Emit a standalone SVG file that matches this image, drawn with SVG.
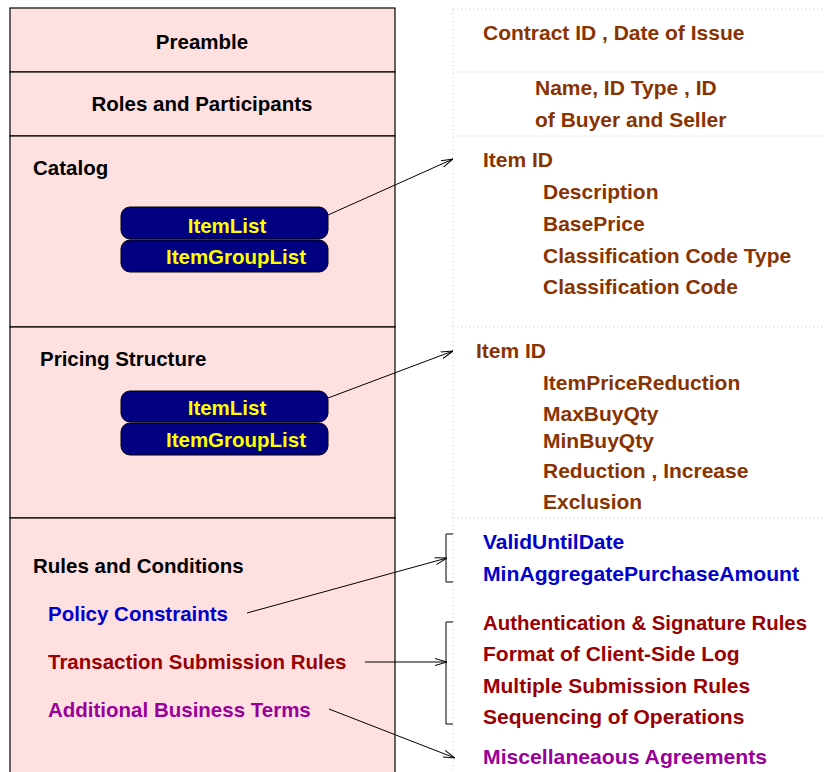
<svg xmlns="http://www.w3.org/2000/svg" width="825" height="772" viewBox="0 0 825 772">
<defs>
<marker id="arr" viewBox="0 0 12 8" refX="12" refY="4" markerWidth="12" markerHeight="8" markerUnits="userSpaceOnUse" orient="auto">
<path d="M0,0.5 L12,4 L0,7.5" fill="none" stroke="#000" stroke-width="1"/>
</marker>
</defs>
<style>
.sec{fill:#ffe0e0;stroke:#000;stroke-width:1.2}
.hd{font-family:"Liberation Sans",Arial,sans-serif;font-weight:bold;font-size:20.5px;fill:#000}
.pill{fill:#000080;stroke:#000;stroke-width:1}
.pt{font-family:"Liberation Sans",Arial,sans-serif;font-weight:bold;font-size:20.5px;fill:#ffff00;text-anchor:middle}
.r{font-family:"Liberation Sans",Arial,sans-serif;font-weight:bold;font-size:21px}
.br{fill:#883300}
.dr{fill:#990000}
.bl{fill:#0000cc}
.pu{fill:#990099}
.dot{stroke:#c4c4c4;stroke-width:1;stroke-dasharray:1 3;fill:none}
.con{stroke:#000;stroke-width:1;fill:none}
</style>
<rect x="0" y="0" width="825" height="772" fill="#fff"/>
<g id="guides">
<line class="dot" x1="453" y1="9" x2="453" y2="772"/>
<line class="dot" x1="453" y1="9" x2="825" y2="9"/>
<line class="dot" x1="453" y1="72" x2="825" y2="72"/>
<line class="dot" x1="453" y1="136" x2="825" y2="136"/>
<line class="dot" x1="453" y1="327" x2="825" y2="327"/>
<line class="dot" x1="453" y1="518" x2="825" y2="518"/>
</g>
<g id="preamble">
<rect class="sec" x="10" y="8" width="385" height="64"/>
<text class="hd" x="202" y="49" text-anchor="middle">Preamble</text>
</g>
<g id="roles">
<rect class="sec" x="10" y="72" width="385" height="64"/>
<text class="hd" x="202" y="111" text-anchor="middle">Roles and Participants</text>
</g>
<g id="catalog">
<rect class="sec" x="10" y="136" width="385" height="191"/>
<text class="hd" x="33" y="175">Catalog</text>
<rect class="pill" x="121" y="207" width="207" height="32" rx="9"/>
<text class="pt" x="227" y="233">ItemList</text>
<rect class="pill" x="121" y="240" width="207" height="32" rx="9"/>
<text class="pt" x="236" y="264">ItemGroupList</text>
</g>
<g id="pricing">
<rect class="sec" x="10" y="327" width="385" height="191"/>
<text class="hd" x="40" y="366">Pricing Structure</text>
<rect class="pill" x="121" y="391" width="207" height="31" rx="9"/>
<text class="pt" x="227" y="415">ItemList</text>
<rect class="pill" x="121" y="423" width="207" height="32" rx="9"/>
<text class="pt" x="236" y="447">ItemGroupList</text>
</g>
<g id="rules">
<rect class="sec" x="10" y="518" width="385" height="260"/>
<text class="hd" x="33" y="573">Rules and Conditions</text>
<text class="hd bl" x="48" y="621">Policy Constraints</text>
<text class="hd dr" x="48" y="669">Transaction Submission Rules</text>
<text class="hd pu" x="48" y="717">Additional Business Terms</text>
</g>
<g id="preamble-details">
<text class="r br" x="483" y="40">Contract ID , Date of Issue</text>
</g>
<g id="roles-details">
<text class="r br" x="535" y="95">Name, ID Type , ID</text>
<text class="r br" x="535" y="127">of Buyer and Seller</text>
</g>
<g id="catalog-details">
<text class="r br" x="483" y="167">Item ID</text>
<text class="r br" x="543" y="199">Description</text>
<text class="r br" x="543" y="231">BasePrice</text>
<text class="r br" x="543" y="263">Classification Code Type</text>
<text class="r br" x="543" y="294">Classification Code</text>
</g>
<g id="pricing-details">
<text class="r br" x="476" y="358">Item ID</text>
<text class="r br" x="543" y="390">ItemPriceReduction</text>
<text class="r br" x="543" y="421">MaxBuyQty</text>
<text class="r br" x="543" y="448">MinBuyQty</text>
<text class="r br" x="543" y="478">Reduction , Increase</text>
<text class="r br" x="543" y="509">Exclusion</text>
</g>
<g id="policy-details">
<text class="r bl" x="483" y="549">ValidUntilDate</text>
<text class="r bl" x="483" y="581" textLength="316" lengthAdjust="spacingAndGlyphs">MinAggregatePurchaseAmount</text>
</g>
<g id="submission-details">
<text class="r dr" x="483" y="630" textLength="324" lengthAdjust="spacingAndGlyphs">Authentication &amp; Signature Rules</text>
<text class="r dr" x="483" y="661">Format of Client-Side Log</text>
<text class="r dr" x="483" y="693">Multiple Submission Rules</text>
<text class="r dr" x="483" y="724">Sequencing of Operations</text>
</g>
<g id="business-details">
<text class="r pu" x="483" y="764" textLength="284" lengthAdjust="spacingAndGlyphs">Miscellaneaous Agreements</text>
</g>
<g id="connectors">
<line class="con" x1="328" y1="215" x2="453" y2="159" marker-end="url(#arr)"/>
<line class="con" x1="328" y1="398" x2="453" y2="351" marker-end="url(#arr)"/>
<line class="con" x1="247" y1="613" x2="447" y2="558" marker-end="url(#arr)"/>
<line class="con" x1="365" y1="662" x2="447" y2="662" marker-end="url(#arr)"/>
<line class="con" x1="329" y1="709" x2="455" y2="758" marker-end="url(#arr)"/>
<path class="con" d="M453,534 H446 V582 H453"/>
<path class="con" d="M453,622 H446 V724 H453"/>
</g>
</svg>
